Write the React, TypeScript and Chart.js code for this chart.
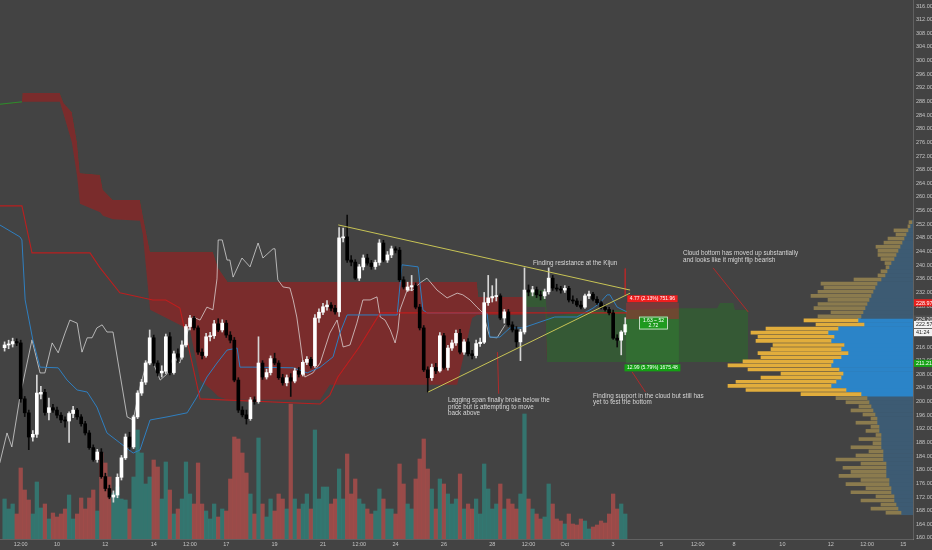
import React, { useEffect, useRef } from 'react';
import { Chart, registerables } from 'chart.js';

Chart.register(...registerables);

// ---------- candles (4h candles, candle 0 = 7 Sep 20:00) ----------
const OPEN = [
  215.8,216.6,216.9,217.6,217.2,200.8,196.7,189.6,190.4,202.2,
  202.7,196.8,198.2,197.5,196.0,194.6,194.3,196.5,197.5,195.5,
  193.5,190.8,186.5,183.0,185.2,178.0,174.5,172.0,172.6,177.8,
  183.5,189.6,186.7,195.5,202.5,205.7,211.3,218.7,211.3,208.4,
  208.9,219.0,208.5,214.0,213.0,216.6,222.0,224.5,221.6,214.5,
  213.5,219.0,219.3,222.8,221.0,223.0,219.5,218.0,206.3,197.5,
  196.1,195.0,200.5,200.0,211.3,207.2,208.5,212.6,211.3,207.0,
  205.5,207.0,206.0,209.0,208.0,211.5,212.4,210.5,224.5,226.2,
  227.8,228.3,227.4,226.3,248.0,248.3,241.5,240.9,236.2,239.5,
  242.1,240.6,239.6,240.8,246.5,241.5,243.0,244.8,244.4,235.7,
  232.7,233.6,234.0,227.7,221.6,209.3,207.0,210.0,209.0,219.3,
  210.0,215.7,217.2,220.0,214.5,217.5,214.0,213.5,217.0,217.4,
  229.0,230.4,230.8,231.0,224.5,226.3,222.5,221.0,217.5,220.4,
  232.7,232.1,232.8,231.3,231.0,232.2,236.2,233.3,233.0,232.7,
  233.2,229.8,229.5,228.3,227.7,231.0,231.5,230.0,229.0,227.7,
  227.0,226.0,218.6,218.0,220.4
];
const HIGH = [
  217.5,218.0,218.6,218.4,218.0,201.5,197.5,191.5,207.8,204.5,
  203.6,201.0,199.2,198.4,196.8,195.5,197.0,198.6,198.0,196.2,
  194.2,191.5,187.3,186.0,186.2,179.0,175.5,173.8,178.8,184.2,
  190.5,191.0,196.0,203.2,206.5,212.0,221.0,219.5,212.0,210.5,
  219.8,220.2,214.8,215.5,217.8,222.6,225.3,225.0,222.2,215.5,
  220.0,220.3,223.8,224.3,224.0,223.8,220.5,218.8,207.0,198.5,
  197.5,201.2,201.4,219.0,212.0,209.5,213.4,214.2,212.0,208.0,
  207.8,208.2,209.8,210.0,212.0,213.2,213.0,225.5,227.2,228.8,
  229.6,229.0,228.2,251.0,250.9,254.7,242.8,241.6,240.2,243.0,
  243.2,241.4,241.5,247.5,247.3,244.0,245.6,245.4,245.2,236.6,
  235.0,237.0,234.8,228.5,222.3,210.2,211.0,211.2,220.2,220.0,
  216.5,218.0,221.0,221.2,218.2,218.5,215.0,218.0,218.6,232.0,
  237.0,234.0,236.0,231.6,227.0,227.0,223.4,222.0,221.2,239.2,
  234.2,233.8,233.6,232.4,233.0,239.2,237.0,234.4,233.8,234.0,
  233.8,231.0,230.2,229.5,231.5,232.4,232.0,230.8,229.5,228.4,
  227.6,226.8,219.6,220.8,224.6
];
const LOW = [
  214.8,215.5,216.0,216.4,199.8,195.6,185.9,188.4,189.5,200.8,
  196.0,194.6,196.8,195.2,193.8,192.5,188.0,195.3,194.8,192.8,
  190.2,186.0,182.5,182.2,177.5,173.8,171.5,170.5,171.8,177.0,
  183.0,186.0,186.2,195.0,201.8,205.0,210.8,210.5,207.5,207.2,
  208.2,207.8,208.0,211.5,212.4,216.0,221.0,221.0,213.8,212.5,
  213.0,217.8,218.5,220.5,220.4,218.8,217.2,205.8,196.8,195.5,
  193.4,194.5,199.2,199.5,206.5,206.6,207.8,210.8,206.5,204.8,
  204.6,201.5,205.5,207.2,207.5,210.8,209.8,210.0,223.2,225.5,
  226.8,226.6,225.6,225.0,246.8,240.8,239.8,235.8,235.5,238.6,
  240.0,238.8,238.8,240.0,241.0,240.8,242.2,243.6,235.2,233.0,
  232.3,232.5,227.2,221.0,208.8,202.8,206.2,208.2,208.6,209.5,
  209.2,215.0,216.5,214.0,213.8,213.4,212.5,212.8,216.2,217.0,
  228.2,229.2,229.5,224.0,223.0,222.0,220.4,216.0,212.0,219.8,
  231.0,231.0,230.5,229.8,230.2,231.5,232.6,232.4,231.8,232.0,
  229.2,228.8,227.8,227.2,227.3,230.2,229.5,228.5,227.2,226.5,
  225.4,218.2,216.0,213.7,219.6
];
const CLOSE = [
  216.6,216.9,217.6,217.2,200.8,196.7,189.6,190.4,202.5,202.7,
  196.8,198.2,197.5,196.0,194.6,194.3,196.5,197.5,195.5,193.5,
  190.8,186.5,183.0,185.2,178.0,174.5,172.0,172.6,177.8,183.5,
  189.6,186.7,195.5,202.5,205.7,211.3,218.7,211.3,208.4,208.9,
  219.0,208.5,214.0,213.0,216.6,222.0,224.5,221.6,214.5,213.5,
  219.0,219.3,222.8,221.0,223.0,219.5,218.0,206.3,197.5,196.1,
  195.0,200.5,200.0,211.3,207.2,208.5,212.6,211.3,207.0,205.5,
  207.0,206.0,209.0,208.0,211.5,212.4,210.5,224.5,226.2,227.8,
  228.3,227.4,226.3,248.0,248.3,241.5,240.9,236.2,239.5,242.1,
  240.6,239.6,240.8,246.5,241.5,243.0,244.8,244.4,235.7,233.6,
  233.6,234.0,227.7,221.6,209.3,207.0,210.0,209.0,219.3,210.0,
  215.7,217.2,220.0,214.5,217.5,214.0,213.5,217.0,217.4,229.0,
  230.4,230.8,231.0,224.5,226.3,222.5,221.0,217.5,220.4,232.7,
  232.1,232.8,231.3,231.0,232.2,236.2,233.3,233.0,232.7,233.2,
  229.8,229.5,228.3,227.7,231.0,231.5,230.0,229.0,227.7,227.0,
  226.0,218.6,218.0,220.4,222.57
];
const VOLUME = [
  40,30,35,25,71,49,39,25,57,31,
  35,20,26,22,25,30,44,20,25,41,
  30,41,49,28,86,76,62,46,52,40,
  39,30,62,109,86,55,62,79,72,40,
  77,49,25,30,40,77,45,35,76,35,
  28,20,35,22,30,28,60,102,100,86,
  66,45,25,101,35,22,40,28,45,40,
  30,135,40,30,35,45,30,109,40,52,
  52,35,40,70,40,85,45,60,40,35,
  30,25,28,50,40,30,30,25,75,55,
  35,30,60,80,100,70,50,30,60,55,
  45,35,40,65,30,35,30,40,25,75,
  50,30,35,55,30,40,35,30,45,125,
  40,30,25,20,22,55,35,20,18,15,
  25,15,14,20,18,10,12,14,18,16,
  25,45,30,35,25
];

// ---------- axes ----------
const X_MIN = -1.14;
const X_MAX = 225.4;
const X_TICKS = [4, 13, 25, 37, 46, 55, 67, 79, 88, 97, 109, 121, 130, 139, 151, 163, 172, 181, 193, 205, 214, 223];
const X_LABELS = ['12:00', '10', '12', '14', '12:00', '17', '19', '21', '12:00', '24', '26', '28', '12:00', 'Oct', '3', '5', '12:00', '8', '10', '12', '12:00', '15'];
const Y_MIN = 159.7;
const Y_MAX = 317.76;
const Y_TICKS = [160,164,168,172,176,180,184,188,192,196,200,204,208,212,216,220,224,228,232,236,240,244,248,252,256,260,264,268,272,276,280,284,288,292,296,300,304,308,312,316];
const VOLUME_AXIS_MAX = 539;

// ---------- ichimoku ----------
const CLOUD_X = [-1.2, 4.3, 4.4, 13.7, 14.7, 16.7, 18.0, 18.7, 23.7, 24.4, 26.9, 33.6, 34.3, 36.1, 46.0, 48.5, 51.7, 53.0, 55.4, 57.2, 78.3, 80.7, 112.3, 116.0, 117.2, 117.6, 128.6, 129.6, 134.1, 134.6, 145.0, 167.6, 176.8, 177.5, 180.8, 181.2, 184.5];
const CLOUD_A = [287.2, 287.9, 287.9, 287.9, 284.0, 276.0, 266.0, 258.0, 255.5, 254.5, 253.5, 253.0, 249.0, 226.9, 221.0, 206.3, 203.0, 201.5, 200.5, 200.5, 200.5, 204.9, 204.9, 224.5, 225.4, 225.4, 225.4, 232.7, 232.7, 224.8, 226.5, 227.4, 227.4, 228.9, 228.9, 226.9, 226.9];
const CLOUD_B = [286.9, 287.6, 290.5, 290.5, 287.5, 284.9, 276.0, 267.0, 266.5, 262.1, 259.1, 259.1, 254.7, 243.9, 243.9, 243.9, 243.9, 239.2, 235.1, 235.1, 235.1, 235.1, 235.1, 235.1, 235.1, 230.7, 230.7, 227.7, 227.7, 211.6, 211.6, 211.6, 211.6, 211.6, 211.6, 211.6, 211.6];
const KIJUN = [[-1.2,257.4],[4.3,257.4],[6.8,243.6],[21.2,243.6],[23.7,239.2],[28.6,231.9],[36.8,229.8],[40.0,229.8],[43.5,227.4],[48.5,200.8],[78.3,199.3],[80.7,201.9],[82.7,207.2],[88.0,216.0],[93.2,226.0],[154.4,226.0]];
const TENKAN = [[-1.2,251.8],[3.8,248.3],[4.3,247.4],[5.1,229.8],[7.0,218.1],[8.8,210.1],[13.3,209.9],[15.5,206.3],[18.0,203.4],[20.5,202.8],[22.9,198.4],[25.4,190.8],[28.6,187.9],[31.9,184.9],[33.6,185.8],[36.1,194.6],[40.3,195.5],[45.3,196.7],[47.7,201.3],[50.2,207.2],[52.7,211.3],[55.2,215.1],[57.7,215.7],[58.4,210.1],[61.6,210.1],[71.6,209.9],[75.1,208.4],[78.3,210.1],[81.5,213.1],[83.2,220.1],[85.0,225.4],[97.4,225.4],[98.6,240.1],[102.6,239.5],[103.8,226.9],[104.8,226.0],[119.7,226.0],[120.4,218.9],[122.9,218.9],[125.4,221.6],[128.6,221.6],[136.5,224.8],[142.0,224.8],[146.0,227.4],[147.7,228.9],[149.5,231.3],[150.2,231.3],[152.0,227.7],[154.4,226.3]];
const LAGGING = [[-1.2,182.0],[0.6,190.8],[1.8,186.7],[3.8,201.3],[6.8,218.1],[8.8,208.4],[10.0,208.4],[11.8,217.2],[13.3,214.3],[15.0,220.1],[16.2,223.9],[18.0,223.0],[19.2,214.5],[20.5,218.7],[21.7,218.7],[22.9,221.6],[24.2,222.5],[25.4,220.4],[26.9,220.4],[30.4,195.5],[31.9,194.6],[33.6,204.3],[35.3,211.6],[36.8,211.6],[38.6,206.3],[40.3,208.1],[41.8,213.1],[43.5,211.3],[45.3,220.1],[46.8,224.8],[48.5,223.9],[50.2,227.7],[51.7,226.9],[52.7,236.0],[53.0,247.4],[54.0,247.4],[55.2,241.5],[55.9,241.5],[56.7,236.5],[58.9,242.1],[60.9,239.5],[62.9,246.5],[64.1,242.1],[66.6,244.8],[67.1,244.8],[67.8,235.7],[69.1,233.6],[70.8,233.3],[71.6,229.8],[72.5,224.8],[73.3,218.1],[74.5,207.2],[76.5,208.4],[78.3,211.3],[80.7,220.1],[82.5,223.9],[84.0,216.0],[85.7,216.6],[87.4,223.0],[88.9,229.8],[90.7,229.8],[92.4,230.7],[93.2,224.8],[94.4,223.9],[95.7,221.0],[96.9,217.2],[97.6,221.0],[98.1,226.9],[99.9,232.7],[101.3,232.7],[103.1,234.8],[104.8,236.2],[107.3,232.7],[109.8,230.4],[112.3,231.8],[113.7,231.3],[115.5,229.8],[117.2,227.7],[118.7,226.0],[120.4,218.9],[122.2,218.7],[123.4,221.0],[124.2,222.5]];

// ---------- volume profile (rows of 1.2 from 167.4 up) ----------
const PROFILE_FIRST_ROW = 167.4;
const PROFILE_ROW = 1.2;
const PROFILE_DOWN = [12,15,17,19,19,22,22,24,24,27, 27,27,27,30,30,30,32,32,32,32, 34,34,36,36,38,40,42,44,46,52, 67,82,77,72,70,74,82,80,72,65, 72,69,82,79,85,75,49,55,52,50, 48,46,44,42,40,38,36,32,28,26, 24,22,19,17,15,13,11,9,7,5, 3,1];
const PROFILE_UP = [15,27,15,33,18,40,25,43,28,47, 35,43,25,47,27,14,30,8,22,5, 13,8,21,6,12,22,12,23,31,60, 100,103,100,80,62,91,103,90,80,90, 70,71,75,76,77,72,48,54,43,32, 51,49,41,60,55,51,56,27,7,6, 3,6,13,18,20,24,18,16,10,14, 2,3];
const VALUE_AREA = [201.6, 224.4];
const PROFILE_AXIS_MAX = 913;

// ---------- drawings ----------
const TRIANGLE_UPPER = [[82.8, 251.8], [155.2, 232.7]];
const TRIANGLE_LOWER = [[105.1, 202.8], [155.2, 231.8]];
const ARROW_RESISTANCE = [[154.0, 239.0], [154.0, 231.2]];
const ARROW_CLOUD = [[175.8, 239.2], [184.5, 226.3]];
const ARROW_LAGGING = [[122.6, 202.3], [122.3, 214.5]];
const ARROW_SUPPORT = [[155.7, 208.7], [159.0, 202.8]];
const NOTES = [
  { x: 131.1, y: 240.65, lines: ['Finding resistance at the Kijun'] },
  { x: 168.3, y: 243.4, lines: ['Cloud bottom has moved up substantially', 'and looks like it might flip bearish'] },
  { x: 110.0, y: 200.3, lines: ['Lagging span finally broke below the', 'price but is attempting to move', 'back above'] },
  { x: 146.0, y: 201.6, lines: ['Finding support in the cloud but still has', 'yet to test the bottom'] },
];
const POSITION = {
  from: 154.2, to: 167.3, entry: 224.20, stop: 228.97, target: 211.21,
  stopText: '4.77 (2.13%) 751.96', targetText: '12.99 (5.79%) 1675.48', ratioText: ['1.63 ~ 52', '2.72'],
};
const PRICE_MARKS = [
  { price: 228.97, text: '228.97', bg: '#e8201e', fg: '#ffffff', shift: 0 },
  { price: 224.20, text: '224.20', bg: '#505050', fg: '#e8e8e8', shift: 0 },
  { price: 222.57, text: '222.57', bg: '#f2f2f2', fg: '#222222', shift: 0 },
  { price: 222.57, text: '41:24', bg: '#f2f2f2', fg: '#222222', shift: 8 },
  { price: 211.21, text: '211.21', bg: '#17a317', fg: '#ffffff', shift: 0 },
];

// ---------- style ----------
const W = 932;
const H = 550;
const BG = '#434343';
const FONT = '"Liberation Sans", Arial, sans-serif';
const TICK_COLOR = '#c4c4c4';
const AXIS_LINE = 'rgba(255,255,255,0.16)';

const pts = (arr: number[][]) => arr.map(([x, y]) => ({ x, y }));

const bgPlugin = {
  id: 'bgFill',
  beforeDraw(chart: any) {
    const { ctx, width, height } = chart;
    ctx.save();
    ctx.fillStyle = BG;
    ctx.fillRect(0, 0, width, height);
    ctx.restore();
  },
};

const overlayPlugin = {
  id: 'overlay',
  afterDatasetsDraw(chart: any) {
    const { ctx } = chart;
    const xs = chart.scales.x;
    const ys = chart.scales.y;
    ctx.save();
    const x0 = xs.getPixelForValue(POSITION.from);
    const x1 = xs.getPixelForValue(POSITION.to);
    const yE = ys.getPixelForValue(POSITION.entry);
    const yS = ys.getPixelForValue(POSITION.stop);
    const yT = ys.getPixelForValue(POSITION.target);
    ctx.fillStyle = 'rgba(205,45,45,0.38)';
    ctx.fillRect(x0, yS, x1 - x0, yE - yS);
    ctx.fillStyle = 'rgba(40,175,40,0.24)';
    ctx.fillRect(x0, yE, x1 - x0, yT - yE);
    const cx = (x0 + x1) / 2;
    ctx.font = `5px ${FONT}`;
    ctx.textAlign = 'center';
    ctx.textBaseline = 'middle';
    const box = (text: string, top: number, bg: string) => {
      const w = ctx.measureText(text).width + 5;
      ctx.fillStyle = bg;
      ctx.fillRect(cx - w / 2, top, w, 7);
      ctx.fillStyle = '#ffffff';
      ctx.fillText(text, cx, top + 3.7);
    };
    box(POSITION.stopText, yS - 7.5, '#f01e1e');
    box(POSITION.targetText, yT + 1, '#14a014');
    const bw = 29, bh = 13;
    const bx = cx + 1 - bw / 2, by = yE - 2.5;
    ctx.fillStyle = '#1f9a1f';
    ctx.fillRect(bx, by, bw, bh);
    ctx.strokeStyle = '#e6e6e6';
    ctx.lineWidth = 0.8;
    ctx.strokeRect(bx + 0.5, by + 0.5, bw - 1, bh - 1);
    ctx.fillStyle = '#ffffff';
    ctx.fillText(POSITION.ratioText[0], cx + 1, by + 4);
    ctx.fillText(POSITION.ratioText[1], cx + 1, by + 9.5);

    ctx.font = `6.3px ${FONT}`;
    ctx.textAlign = 'left';
    ctx.fillStyle = '#d6d6d6';
    NOTES.forEach((n) => {
      const px = xs.getPixelForValue(n.x);
      const py = ys.getPixelForValue(n.y);
      n.lines.forEach((line, i) => ctx.fillText(line, px, py + i * 6.4));
    });
    ctx.restore();
  },
};

const priceMarksPlugin = {
  id: 'priceMarks',
  afterDraw(chart: any) {
    const { ctx, chartArea, width } = chart;
    const ys = chart.scales.y;
    ctx.save();
    ctx.font = `5.4px ${FONT}`;
    ctx.textAlign = 'left';
    ctx.textBaseline = 'middle';
    PRICE_MARKS.forEach((m) => {
      const cy = ys.getPixelForValue(m.price) + m.shift;
      ctx.fillStyle = m.bg;
      ctx.fillRect(chartArea.right + 1, cy - 3.6, width - chartArea.right - 1, 7.2);
      ctx.fillStyle = m.fg;
      ctx.fillText(m.text, chartArea.right + 3, cy + 0.3);
    });
    ctx.restore();
  },
};

export default function App() {
  const ref = useRef<HTMLCanvasElement | null>(null);

  useEffect(() => {
    document.body.style.margin = '0';
    document.body.style.background = BG;
    const up = CLOSE.map((c, i) => c >= OPEN[i]);
    const candleX = OPEN.map((_, i) => i);
    const rowPrice = (k: number) => PROFILE_FIRST_ROW + k * PROFILE_ROW;
    const inVA = (p: number) => p >= VALUE_AREA[0] && p <= VALUE_AREA[1];

    const lineBase = { type: 'line' as const, xAxisID: 'x', yAxisID: 'y', pointRadius: 0, tension: 0, fill: false, borderWidth: 1 };

    const datasets: any[] = [
      {
        ...lineBase,
        label: 'Lead A',
        data: CLOUD_X.map((x, i) => ({ x, y: CLOUD_A[i] })),
        borderColor: 'rgba(0,0,0,0)',
        segment: { borderColor: (c: any) => (c.p0.parsed.x < 4.3 ? '#2f8a2f' : 'rgba(0,0,0,0)') },
        fill: { target: '+1', above: 'rgba(30,130,30,0.36)', below: 'rgba(160,30,30,0.6)' },
        order: 30,
      },
      {
        ...lineBase,
        label: 'Lead B',
        data: CLOUD_X.map((x, i) => ({ x, y: CLOUD_B[i] })),
        borderColor: 'rgba(0,0,0,0)',
        order: 31,
      },
      {
        type: 'bar', label: 'Volume', xAxisID: 'x', yAxisID: 'yv',
        data: candleX.map((x, i) => ({ x, y: VOLUME[i] })),
        backgroundColor: up.map((u) => (u ? 'rgba(38,166,154,0.5)' : 'rgba(239,83,80,0.5)')),
        grouped: false, barThickness: 3.6, maxBarThickness: 3.6, order: 25,
      },
      {
        type: 'bar', label: 'Profile down', indexAxis: 'y', xAxisID: 'xp', yAxisID: 'yp',
        data: PROFILE_DOWN.map((v, k) => ({ x: [0, v], y: rowPrice(k) })),
        backgroundColor: PROFILE_DOWN.map((_, k) => (inVA(rowPrice(k)) ? '#2b84c8' : '#3d5b73')),
        grouped: false, barThickness: 4, maxBarThickness: 4, order: 22,
      },
      {
        type: 'bar', label: 'Profile up', indexAxis: 'y', xAxisID: 'xp', yAxisID: 'yp',
        data: PROFILE_UP.map((v, k) => ({ x: [PROFILE_DOWN[k], PROFILE_DOWN[k] + v], y: rowPrice(k) })),
        backgroundColor: PROFILE_UP.map((_, k) => (inVA(rowPrice(k)) ? '#e1ad3c' : '#8b7b4e')),
        grouped: false, barThickness: 3, maxBarThickness: 3, order: 21,
      },
      { ...lineBase, label: 'Lagging', data: pts(LAGGING), borderColor: 'rgba(235,235,235,0.68)', order: 12 },
      { ...lineBase, label: 'Tenkan', data: pts(TENKAN), borderColor: '#2f7fc0', order: 11 },
      { ...lineBase, label: 'Kijun', data: pts(KIJUN), borderColor: 'rgba(200,28,28,0.9)', borderWidth: 1.1, order: 10 },
      {
        type: 'bar', label: 'Wicks', xAxisID: 'x', yAxisID: 'y',
        data: candleX.map((x, i) => ({ x, y: [LOW[i], HIGH[i]] })),
        backgroundColor: up.map((u) => (u ? '#d6d6d6' : '#0c0c0c')),
        grouped: false, barThickness: 1, maxBarThickness: 1, order: 3,
      },
      {
        type: 'bar', label: 'Bodies', xAxisID: 'x', yAxisID: 'y',
        data: candleX.map((x, i) => ({ x, y: [OPEN[i], CLOSE[i]] })),
        backgroundColor: up.map((u) => (u ? '#ffffff' : '#000000')),
        grouped: false, barThickness: 3, maxBarThickness: 3, minBarLength: 1, order: 2,
      },
      { ...lineBase, label: 'Tri upper', data: pts(TRIANGLE_UPPER), borderColor: '#c8c455', order: 1 },
      { ...lineBase, label: 'Tri lower', data: pts(TRIANGLE_LOWER), borderColor: '#c8c455', order: 1 },
      { ...lineBase, label: 'Arrow 1', data: pts(ARROW_RESISTANCE), borderColor: '#b02a2a', order: 1 },
      { ...lineBase, label: 'Arrow 2', data: pts(ARROW_CLOUD), borderColor: '#b02a2a', order: 1 },
      { ...lineBase, label: 'Arrow 3', data: pts(ARROW_LAGGING), borderColor: '#b02a2a', order: 1 },
      { ...lineBase, label: 'Arrow 4', data: pts(ARROW_SUPPORT), borderColor: '#b02a2a', order: 1 },
    ];

    const tickFont = { family: FONT, size: 5.5 };

    const chart = new Chart(ref.current as HTMLCanvasElement, {
      type: 'bar',
      data: { datasets },
      plugins: [bgPlugin, overlayPlugin, priceMarksPlugin],
      options: {
        animation: false,
        responsive: false,
        devicePixelRatio: 1,
        events: [],
        layout: { padding: 0 },
        plugins: { legend: { display: false }, tooltip: { enabled: false } },
        scales: {
          x: {
            type: 'linear', position: 'bottom', min: X_MIN, max: X_MAX, offset: false,
            grid: { display: false, drawTicks: false },
            border: { display: true, color: AXIS_LINE },
            ticks: {
              autoSkip: false, maxRotation: 0, minRotation: 0, padding: 2, color: TICK_COLOR, font: tickFont,
              callback: (_v: any, i: number) => X_LABELS[i] ?? '',
            },
            afterBuildTicks: (s: any) => { s.ticks = X_TICKS.map((value) => ({ value })); },
            afterFit: (s: any) => { s.height = 11; s.paddingLeft = 0; s.paddingRight = 0; },
          },
          y: {
            type: 'linear', position: 'right', min: Y_MIN, max: Y_MAX, offset: false,
            grid: { display: false, drawTicks: false },
            border: { display: true, color: AXIS_LINE },
            ticks: {
              autoSkip: false, padding: 3, color: TICK_COLOR, font: tickFont,
              callback: (v: any) => Number(v).toFixed(2),
            },
            afterBuildTicks: (s: any) => { s.ticks = Y_TICKS.map((value) => ({ value })); },
            afterFit: (s: any) => { s.width = 19; s.paddingTop = 0; s.paddingBottom = 0; },
          },
          yp: { type: 'linear', display: false, min: Y_MIN, max: Y_MAX, offset: false },
          yv: { type: 'linear', display: false, min: 0, max: VOLUME_AXIS_MAX, offset: false },
          xp: { type: 'linear', display: false, min: 0, max: PROFILE_AXIS_MAX, reverse: true, offset: false },
        },
      } as any,
    } as any);

    return () => chart.destroy();
  }, []);

  return (
    <div style={{ position: 'absolute', left: 0, top: 0, width: W, height: H, background: BG }}>
      <canvas ref={ref} width={W} height={H} style={{ display: 'block', width: W, height: H }} />
    </div>
  );
}
